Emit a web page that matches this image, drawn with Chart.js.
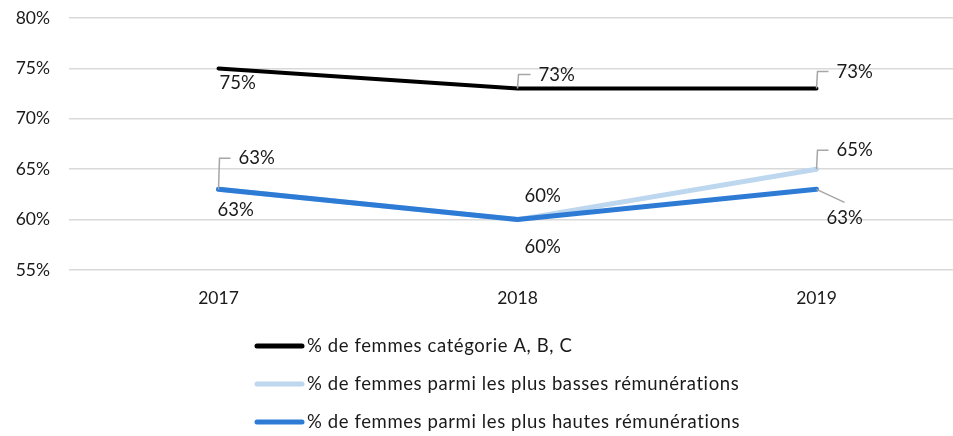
<!DOCTYPE html>
<html>
<head>
<meta charset="utf-8">
<script src="https://cdn.jsdelivr.net/npm/chart.js@4"></script>
<style>
  html, body { margin: 0; padding: 0; background: #fff; overflow: hidden; }
  canvas { display: block; }
</style>
</head>
<body>
<canvas id="chart" width="966" height="436"></canvas>
<script>
const years = ['2017', '2018', '2019'];
const seriesNames = [
  '% de femmes catégorie A, B, C',
  '% de femmes parmi les plus basses rémunérations',
  '% de femmes parmi les plus hautes rémunérations'
];
const womenABC = [75, 73, 73];
const womenLowPay = [63, 60, 65];
const womenHighPay = [63, 60, 63];
const yTicks = [55, 60, 65, 70, 75, 80];

const FONT = 'Lato, "Open Sans", sans-serif';

// where each value label sits relative to its point, and what leader it gets
const labelPlacement = [
  [{dx: 1, dy: 15, lead: null}, {dx: 21, dy: -14, lead: 'elbow'}, {dx: 20, dy: -17, lead: 'elbow'}],
  [{dx: 20, dy: -31, lead: 'elbow'}, {dx: 7, dy: -24, lead: null}, {dx: 20, dy: -19, lead: 'elbow'}],
  [{dx: -1, dy: 21, lead: null}, {dx: 7, dy: 27, lead: null}, {dx: 10, dy: 29, lead: 'diag'}]
];

const valueLabels = {
  id: 'valueLabels',
  afterDatasetsDraw(chart) {
    const ctx = chart.ctx;
    ctx.save();
    ctx.font = '18.5px ' + FONT;
    ctx.fillStyle = '#1a1a1a';
    ctx.textBaseline = 'middle';
    ctx.textAlign = 'left';
    chart.data.datasets.forEach((ds, i) => {
      const meta = chart.getDatasetMeta(i);
      meta.data.forEach((pt, j) => {
        const p = labelPlacement[i][j];
        const tx = pt.x + p.dx;
        const ty = pt.y + p.dy;
        ctx.strokeStyle = '#a6a6a6';
        ctx.lineWidth = 1.5;
        if (p.lead === 'elbow') {
          ctx.beginPath();
          ctx.moveTo(pt.x, pt.y);
          ctx.lineTo(pt.x + 1, ty);
          ctx.lineTo(tx - 8, ty);
          ctx.stroke();
        } else if (p.lead === 'diag') {
          ctx.beginPath();
          ctx.moveTo(pt.x, pt.y);
          ctx.lineTo(pt.x + 28, pt.y + 13);
          ctx.stroke();
        }
        ctx.fillText(ds.data[j] + '%', tx, ty);
      });
    });
    ctx.restore();
  }
};

const listLegend = {
  id: 'listLegend',
  afterDraw(chart) {
    const ctx = chart.ctx;
    ctx.save();
    ctx.font = '18.5px ' + FONT;
    ctx.letterSpacing = '0.6px';
    ctx.textBaseline = 'middle';
    ctx.textAlign = 'left';
    chart.data.datasets.forEach((ds, i) => {
      const y = 346 + i * 38;
      ctx.strokeStyle = ds.borderColor;
      ctx.lineWidth = 5;
      ctx.lineCap = 'round';
      ctx.beginPath();
      ctx.moveTo(257, y);
      ctx.lineTo(302, y);
      ctx.stroke();
      ctx.fillStyle = '#1a1a1a';
      ctx.fillText(ds.label, 307, y);
    });
    ctx.restore();
  }
};

function noScalePadding(scale) {
  scale.paddingTop = 0;
  scale.paddingBottom = 0;
  scale.paddingLeft = 0;
  scale.paddingRight = 0;
}

new Chart(document.getElementById('chart'), {
  type: 'line',
  data: {
    labels: years,
    datasets: [
      {label: seriesNames[0], data: womenABC, borderColor: '#000000', borderWidth: 4, order: 1},
      {label: seriesNames[1], data: womenLowPay, borderColor: '#bdd7ee', borderWidth: 5, order: 2},
      {label: seriesNames[2], data: womenHighPay, borderColor: '#2e7bd6', borderWidth: 5, order: 0}
    ]
  },
  options: {
    responsive: false,
    animation: false,
    layout: {padding: {top: 18, bottom: 121, right: 0, left: 0}},
    elements: {
      line: {tension: 0, borderCapStyle: 'round', borderJoinStyle: 'round'},
      point: {radius: 0, hoverRadius: 0}
    },
    plugins: {
      legend: {display: false},
      tooltip: {enabled: false}
    },
    scales: {
      x: {
        offset: true,
        grid: {display: false, drawTicks: false},
        border: {display: false},
        ticks: {padding: 18, color: '#1a1a1a', font: {family: FONT, size: 17.5}},
        afterFit(scale) { scale.height = 45; noScalePadding(scale); }
      },
      y: {
        min: yTicks[0],
        max: yTicks[yTicks.length - 1],
        afterBuildTicks(scale) { scale.ticks = yTicks.map(v => ({value: v})); },
        grid: {color: '#d9d9d9', lineWidth: 1.5, drawTicks: false},
        border: {display: false},
        ticks: {padding: 19, color: '#1a1a1a', font: {family: FONT, size: 17.5}, callback: v => v + '%'},
        afterFit(scale) { scale.width = 69; noScalePadding(scale); }
      }
    }
  },
  plugins: [valueLabels, listLegend]
});
</script>
</body>
</html>
